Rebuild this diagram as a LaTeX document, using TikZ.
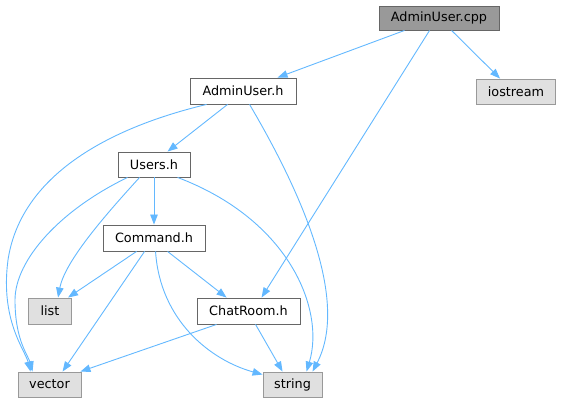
\documentclass[tikz,border=0pt]{standalone}
\usepackage{fontspec}
\setmainfont{DejaVu Sans}
\usetikzlibrary{arrows.meta}
\definecolor{edgeblue}{HTML}{63B8FF}
\definecolor{darkborder}{HTML}{666666}
\definecolor{lightborder}{HTML}{999999}
\definecolor{sysfill}{HTML}{E0E0E0}
\definecolor{mainfill}{HTML}{999999}
\tikzset{
  box/.style={draw=darkborder, fill=white, line width=0.9pt, inner sep=0pt, minimum height=25pt,
    font=\fontsize{12.8}{15}\selectfont, text=black},
  mainbox/.style={box, fill=mainfill},
  sysbox/.style={box, draw=lightborder, fill=sysfill},
  dep/.style={draw=edgeblue, line width=0.9pt, -{Triangle[length=10pt,width=7.5pt]}},
}
\begin{document}
\begin{tikzpicture}[x=1pt,y=-1pt]
\useasboundingbox (0,0) rectangle (562,403);
\node[mainbox, minimum width=120pt, minimum height=24pt] (cpp) at (439,18) {AdminUser.cpp};
\node[sysbox, minimum width=79pt] (ios) at (516,91.5) {iostream};
\node[box, minimum width=106pt, minimum height=26pt] (auh) at (243,91) {AdminUser.h};
\node[box, minimum width=72pt] (usr) at (154,164.5) {Users.h};
\node[box, minimum width=102pt, minimum height=26pt] (cmd) at (154,238) {Command.h};
\node[sysbox, minimum width=43pt, minimum height=26pt] (lst) at (50,311) {list};
\node[box, minimum width=103pt, minimum height=26pt] (chat) at (248.5,311) {ChatRoom.h};
\node[sysbox, minimum width=63pt] (vec) at (49.5,384.5) {vector};
\node[sysbox, minimum width=59pt] (str) at (292.5,384.5) {string};

% AdminUser.cpp
\draw[dep] ([xshift=26pt]cpp.south west) -- ([xshift=88pt]auh.north west);
\draw[dep] ([xshift=73pt]cpp.south west) -- ([xshift=24pt]ios.north west);
\draw[dep] ([xshift=51pt]cpp.south west) -- ([xshift=65pt]chat.north west);
% AdminUser.h
\draw[dep] ([xshift=38pt]auh.south west) -- ([xshift=50pt]usr.north west);
\draw[dep] ([xshift=17pt]auh.south west) .. controls (100,130) and (20,180) .. (8,260)
  .. controls (0,320) and (25,350) .. ([xshift=13pt]vec.north west);
\draw[dep] ([xshift=60pt]auh.south west) .. controls (300,190) and (350,300) .. ([xshift=50pt]str.north west);
% Users.h
\draw[dep] (usr.south) -- (cmd.north);
\draw[dep] ([xshift=22pt]usr.south west) .. controls (110,210) and (65,260) .. ([xshift=30pt]lst.north west);
\draw[dep] ([xshift=10pt]usr.south west) .. controls (60,210) and (15,260) .. (15,300)
  .. controls (15,340) and (28,355) .. ([xshift=15pt]vec.north west);
\draw[dep] ([xshift=60pt]usr.south west) .. controls (290,220) and (325,310) .. ([xshift=44pt]str.north west);
% Command.h
\draw[dep] ([xshift=34pt]cmd.south west) -- ([xshift=40pt]lst.north west);
\draw[dep] ([xshift=42pt]cmd.south west) -- ([xshift=45pt]vec.north west);
\draw[dep] ([xshift=65pt]cmd.south west) -- ([xshift=30pt]chat.north west);
\draw[dep] ([xshift=53pt]cmd.south west) .. controls (160,320) and (210,360) .. ([yshift=-3pt]str.north west);
% ChatRoom.h
\draw[dep] ([xshift=20pt]chat.south west) -- ([xshift=-1pt]vec.north east);
\draw[dep] ([xshift=59pt]chat.south west) -- ([xshift=20pt]str.north west);
\end{tikzpicture}
\end{document}
